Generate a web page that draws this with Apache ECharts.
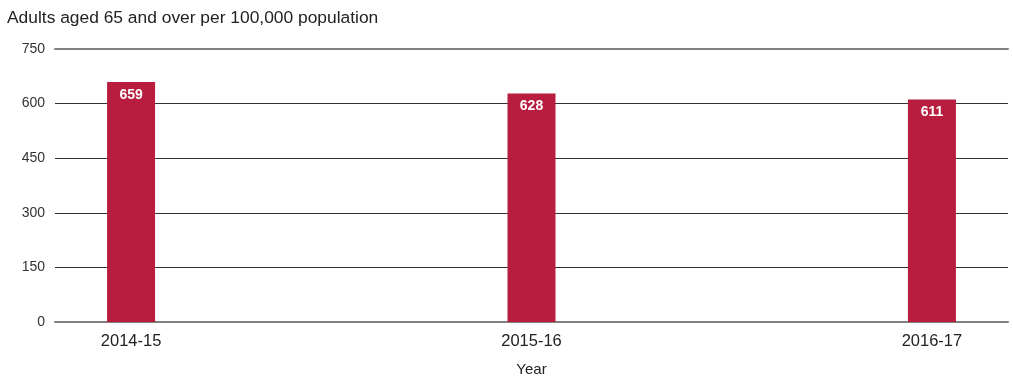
<!DOCTYPE html>
<html><head><meta charset="utf-8">
<script src="https://cdn.jsdelivr.net/npm/echarts@6/dist/echarts.min.js"></script>
<style>html,body{margin:0;padding:0;background:#fff}#c{width:1013px;height:379px}</style>
</head><body><div id="c"></div>
<script>
const categories = ['2014-15', '2015-16', '2016-17'];
const values = [659, 628, 611];
const yTicks = [0, 150, 300, 450, 600, 750];
const titleText = 'Adults aged 65 and over per 100,000 population';
const xName = 'Year';

const chart = echarts.init(document.getElementById('c'));
const font = 'Liberation Sans, Arial, sans-serif';
chart.setOption({
  animation: false,
  title: { text: titleText, left: 2, top: 5, textStyle: { fontFamily: font, fontSize: 17.4, fontWeight: 'normal', color: '#222' } },
  grid: { left: 55, right: 5, top: 49, bottom: 57, outerBoundsMode: 'none', containLabel: false },
  xAxis: [{
    type: 'value', min: -0.19, max: 2.19,
    name: xName, nameLocation: 'middle', nameGap: 40,
    nameTextStyle: { fontFamily: font, fontSize: 15, color: '#222' },
    axisLine: { show: true, lineStyle: { color: '#808080', width: 2 } },
    axisTick: { show: false },
    splitLine: { show: false },
    axisLabel: { customValues: [0, 1, 2], formatter: v => categories[Math.round(v)], fontFamily: font, fontSize: 16.5, color: '#222', margin: 11 }
  }, {
    type: 'value', position: 'top', min: -0.19, max: 2.19,
    axisLine: { show: true, lineStyle: { color: '#808080', width: 2 } },
    axisTick: { show: false }, axisLabel: { show: false }, splitLine: { show: false }
  }],
  yAxis: {
    type: 'value', min: yTicks[0], max: yTicks[yTicks.length - 1], interval: 150,
    axisLine: { show: false }, axisTick: { show: false },
    splitLine: { lineStyle: { color: '#333', width: 1 } },
    axisLabel: { fontFamily: font, fontSize: 14, color: '#333', margin: 10 }
  },
  series: [{
    type: 'bar', barWidth: 48, xAxisIndex: 0,
    data: values.map((v, i) => [i, v]),
    itemStyle: { color: '#b81c3f' },
    label: { show: true, position: 'insideTop', distance: 6, color: '#fff', fontWeight: 'bold', fontFamily: font, fontSize: 14, formatter: p => p.value[1] }
  }]
});
</script></body></html>
